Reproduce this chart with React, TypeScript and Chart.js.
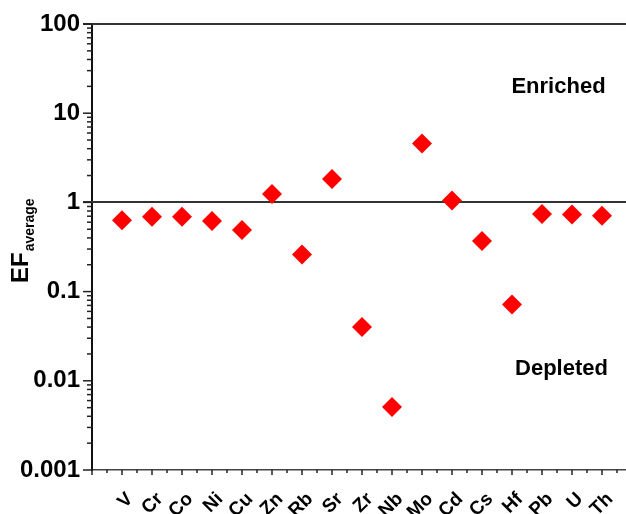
import React, { useEffect, useRef } from "react";
import { Chart, registerables } from "chart.js";

Chart.register(...registerables);

const categories = ["V", "Cr", "Co", "Ni", "Cu", "Zn", "Rb", "Sr", "Zr", "Nb", "Mo", "Cd", "Cs", "Hf", "Pb", "U", "Th"];
const efAverage = [0.63, 0.69, 0.69, 0.62, 0.49, 1.24, 0.26, 1.83, 0.04, 0.0051, 4.58, 1.05, 0.37, 0.0715, 0.74, 0.73, 0.71];
const yDecades = [0.001, 0.01, 0.1, 1, 10, 100];
const refLines = [1, 100];
const regionLabels = [
  { text: "Enriched", x: 15.55, y: 19.5 },
  { text: "Depleted", x: 15.65, y: 0.0135 },
];

const FONT = "'Liberation Sans', Arial, sans-serif";

const decorPlugin = {
  id: "decor",
  beforeDatasetsDraw(chart: any) {
    const { ctx, scales, chartArea } = chart;
    const x = scales.x;
    const y = scales.y;
    ctx.save();
    ctx.strokeStyle = "#333";
    ctx.lineWidth = 2;
    refLines.forEach((v) => {
      const py = Math.round(y.getPixelForValue(v));
      ctx.beginPath();
      ctx.moveTo(chartArea.left - 9, py);
      ctx.lineTo(chartArea.right, py);
      ctx.stroke();
    });
    ctx.strokeStyle = "#222";
    ctx.lineWidth = 1.5;
    const minE = Math.round(Math.log10(yDecades[0]));
    const maxE = Math.round(Math.log10(yDecades[yDecades.length - 1]));
    for (let e = minE; e <= maxE; e++) {
      for (let m = 1; m <= 9; m++) {
        if (e === maxE && m > 1) break;
        const v = m * Math.pow(10, e);
        const py = y.getPixelForValue(v);
        const len = m === 1 ? 9 : 5;
        ctx.beginPath();
        ctx.moveTo(chartArea.left - len, py);
        ctx.lineTo(chartArea.left, py);
        ctx.stroke();
      }
    }
    for (let v = 0; v <= x.max + 1e-9; v += 0.5) {
      const px = x.getPixelForValue(v);
      const major = Math.abs(v - Math.round(v)) < 1e-9;
      const len = major ? 5 : 3;
      ctx.beginPath();
      ctx.moveTo(px, chartArea.bottom);
      ctx.lineTo(px, chartArea.bottom + len);
      ctx.stroke();
    }
    ctx.restore();
  },
  afterDraw(chart: any) {
    const { ctx, scales } = chart;
    ctx.save();
    ctx.fillStyle = "#000";
    ctx.font = `bold 22px ${FONT}`;
    ctx.textAlign = "center";
    ctx.textBaseline = "middle";
    regionLabels.forEach((l) => {
      ctx.fillText(l.text, scales.x.getPixelForValue(l.x), scales.y.getPixelForValue(l.y));
    });
    ctx.translate(28, 283);
    ctx.rotate(-Math.PI / 2);
    ctx.textAlign = "left";
    ctx.textBaseline = "alphabetic";
    ctx.font = `bold 24px ${FONT}`;
    ctx.fillText("EF", 0, 0);
    const w = ctx.measureText("EF").width;
    ctx.font = `bold 14px ${FONT}`;
    ctx.fillText("average", w + 1, 6);
    ctx.restore();
  },
};

export default function App() {
  const canvasRef = useRef<HTMLCanvasElement | null>(null);

  useEffect(() => {
    document.body.style.margin = "0";
    const canvas = canvasRef.current;
    if (!canvas) return;
    const chart = new Chart(canvas, {
      type: "scatter",
      data: {
        datasets: [
          {
            label: "EF average",
            data: efAverage.map((v, i) => ({ x: i + 1, y: v })),
            pointStyle: "rectRot",
            pointRadius: 10,
            pointHoverRadius: 10,
            backgroundColor: "#ff0000",
            borderWidth: 0,
          },
        ],
      },
      options: {
        responsive: false,
        animation: false,
        layout: { autoPadding: false, padding: { top: 24, right: 0, left: 0, bottom: 0 } },
        plugins: { legend: { display: false }, tooltip: { enabled: false } },
        scales: {
          x: {
            type: "linear",
            min: 0,
            max: (626 - 92) / 30,
            grid: { display: false, drawTicks: false },
            border: { display: true, color: "#444", width: 1.5 },
            afterFit: (s: any) => {
              s.height = 44;
              s.paddingLeft = 0;
              s.paddingRight = 0;
            },
            ticks: {
              stepSize: 1,
              autoSkip: false,
              includeBounds: false,
              minRotation: 45,
              maxRotation: 45,
              labelOffset: 8,
              padding: 18,
              color: "#000",
              font: { family: FONT, size: 19, weight: "bold" },
              callback: (v: any) => {
                const n = Math.round(Number(v));
                if (Math.abs(Number(v) - n) > 1e-9) return "";
                return n >= 1 && n <= categories.length ? categories[n - 1] : "";
              },
            },
          },
          y: {
            type: "logarithmic",
            min: yDecades[0],
            max: yDecades[yDecades.length - 1],
            grid: { display: false, drawTicks: false },
            border: { display: true, color: "#111", width: 2 },
            afterFit: (s: any) => {
              s.width = 92;
              s.paddingTop = 0;
              s.paddingBottom = 0;
            },
            ticks: {
              autoSkip: false,
              padding: 12,
              color: "#000",
              font: { family: FONT, size: 24, weight: "bold" },
              callback: (v: any) => {
                const n = Number(v);
                const lg = Math.log10(n);
                if (Math.abs(lg - Math.round(lg)) > 1e-6) return "";
                const match = yDecades.find((d) => Math.abs(Math.log10(d) - lg) < 1e-6);
                return match !== undefined ? String(match) : "";
              },
            },
          },
        },
      },
      plugins: [decorPlugin],
    });
    return () => chart.destroy();
  }, []);

  return (
    <div style={{ width: 626, height: 514 }}>
      <canvas ref={canvasRef} width={626} height={514} />
    </div>
  );
}
